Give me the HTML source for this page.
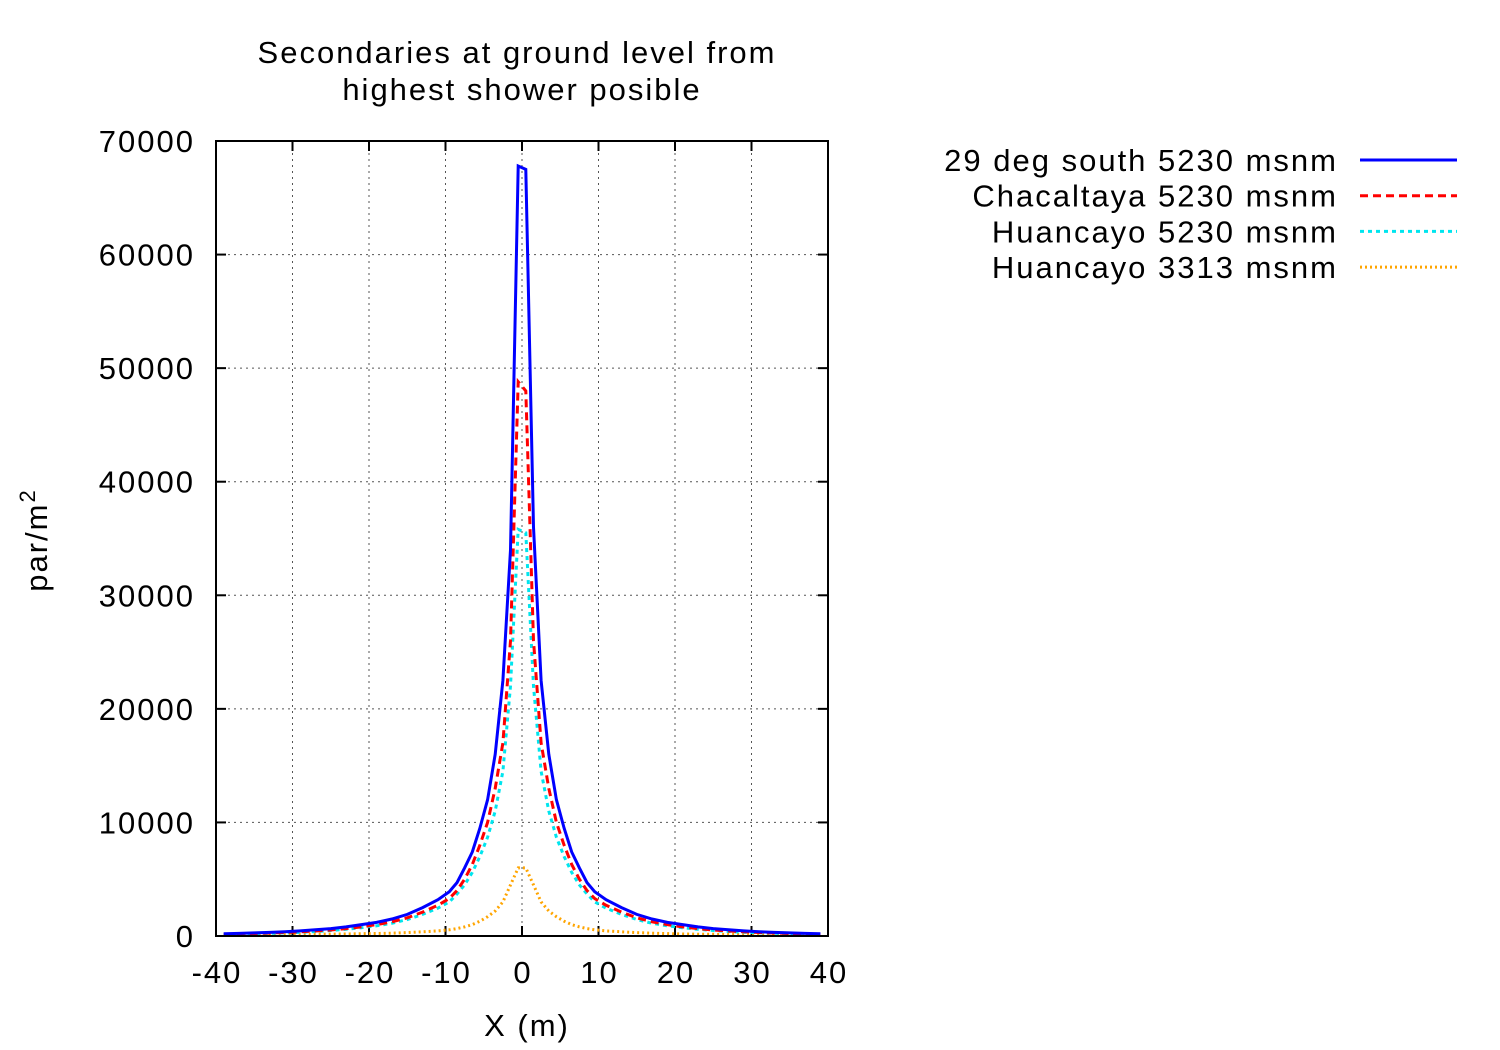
<!DOCTYPE html>
<html><head><meta charset="utf-8"><style>
body{margin:0;background:#fff;}
svg{display:block;font-family:"Liberation Sans",Arial,sans-serif;}
svg text{letter-spacing:2px;}
</style></head><body>
<svg id="chart" width="1500" height="1050">
<text x="517" y="63" text-anchor="middle" font-size="31">Secondaries at ground level from</text>
<text x="522" y="100" text-anchor="middle" font-size="31">highest shower posible</text>
<g id="grid"></g>
<g id="ticks"></g>
<g id="series"></g>
<rect x="216" y="141" width="612" height="795" fill="none" stroke="#000" stroke-width="2"/>
<text x="527" y="1036" text-anchor="middle" font-size="31">X (m)</text>
<text transform="translate(47,540) rotate(-90)" text-anchor="middle" font-size="31">par/m<tspan dy="-12" font-size="22">2</tspan></text>
<g id="legend"></g>
</svg>
<script>
const xs = [-39,-37,-35,-33,-31,-29,-27,-25,-23,-21,-19,-17,-15,-13,-11,-9.5,-8.5,-7.5,-6.5,-5.5,-4.5,-3.5,-2.5,-1.5,-0.5,0.5,1.5,2.5,3.5,4.5,5.5,6.5,7.5,8.5,9.5,11,13,15,17,19,21,23,25,27,29,31,33,35,37,39];
const blue = [200,230,270,320,380,450,550,650,800,1000,1200,1500,1900,2500,3200,3900,4700,6000,7400,9500,12000,16000,22500,34000,67800,67500,36000,22500,16000,12000,9500,7400,6000,4700,3900,3200,2500,1900,1500,1200,1000,800,650,550,450,380,320,270,230,200];
const red = [160,190,220,260,310,370,440,530,650,800,1000,1250,1600,2100,2700,3300,4000,5000,6300,8000,10000,13000,17000,26000,48800,48000,26000,17000,13000,10000,8000,6300,5000,4000,3300,2700,2100,1600,1250,1000,800,650,530,440,370,310,260,220,190,160];
const cyan = [150,170,200,240,280,330,400,480,590,730,900,1120,1450,1900,2450,3000,3700,4500,5600,7000,8700,11000,14500,22000,35800,35500,22000,14500,11000,8700,7000,5600,4500,3700,3000,2450,1900,1450,1120,900,730,590,480,400,330,280,240,200,170,150];
const orange = [100,110,120,130,140,150,160,170,180,200,220,250,300,370,450,550,650,800,1000,1300,1700,2200,3000,4500,6000,6000,4500,3000,2200,1700,1300,1000,800,650,550,450,370,300,250,210,180,160,150,140,130,120,110,100,100,100];
const xTicks = [-40,-30,-20,-10,0,10,20,30,40];
const yTicks = [0,10000,20000,30000,40000,50000,60000,70000];
const legendLabels = ["29 deg south 5230 msnm","Chacaltaya 5230 msnm","Huancayo 5230 msnm","Huancayo 3313 msnm"];

const L=216,R=828,T=141,B=936;
const sx=v=>L+(v+40)/80*(R-L);
const sy=v=>B-v/70000*(B-T);
const NS="http://www.w3.org/2000/svg";
function mk(tag,attrs,parent){const e=document.createElementNS(NS,tag);for(const k in attrs)e.setAttribute(k,attrs[k]);parent.appendChild(e);return e;}
const grid=document.getElementById('grid'),ticks=document.getElementById('ticks');
xTicks.forEach(t=>{
  const x=sx(t);
  if(t>-40&&t<40){const g=mk('line',{x1:x,x2:x,y1:T,y2:B,stroke:'#555','stroke-width':1,'stroke-dasharray':'2,4'},grid);
  
  }
  const a=mk('line',{x1:x,x2:x,y1:B,y2:B-10,stroke:'#000','stroke-width':2},ticks);
  
  
  const b=mk('line',{x1:x,x2:x,y1:T,y2:T+10,stroke:'#000','stroke-width':2},ticks);
  
  
  const tx=mk('text',{x:x+1,y:983,'text-anchor':'middle','font-size':31},ticks);tx.textContent=t;
  
  
});
yTicks.forEach(t=>{
  const y=sy(t);
  if(t>0&&t<70000){const g=mk('line',{x1:L,x2:R,y1:y,y2:y,stroke:'#555','stroke-width':1,'stroke-dasharray':'2,4'},grid);
  
  }
  const a=mk('line',{x1:L,x2:L+10,y1:y,y2:y,stroke:'#000','stroke-width':2},ticks);
  
  
  const b=mk('line',{x1:R,x2:R-10,y1:y,y2:y,stroke:'#000','stroke-width':2},ticks);
  
  
  const tx=mk('text',{x:195,y:y+11,'text-anchor':'end','font-size':31},ticks);tx.textContent=t;
  
  
});
const styles=[
 {d:blue,c:'#0000ff',dash:'',name:'series-29-deg-south'},
 {d:red,c:'#ff0000',dash:'8,5',name:'series-chacaltaya'},
 {d:cyan,c:'#00e5ee',dash:'4,4',name:'series-huancayo-5230'},
 {d:orange,c:'#ffa500',dash:'2,3',name:'series-huancayo-3313'}];
const sg=document.getElementById('series'),lg=document.getElementById('legend');
styles.slice().reverse().forEach(s=>{
  const pts=xs.map((x,i)=>sx(x).toFixed(1)+','+sy(s.d[i]).toFixed(1)).join(' ');
  const p=mk('polyline',{points:pts,fill:'none',stroke:s.c,'stroke-width':3,'stroke-dasharray':s.dash},sg);
  
  
});
styles.forEach((s,i)=>{
  const y=160+i*35.7;
  const t=mk('text',{x:1338,y:y+11,'text-anchor':'end','font-size':31},lg);t.textContent=legendLabels[i];
  
  
  const l=mk('line',{x1:1360,x2:1457,y1:y,y2:y,stroke:s.c,'stroke-width':3,'stroke-dasharray':s.dash},lg);
  
  
});
</script>
</body></html>
